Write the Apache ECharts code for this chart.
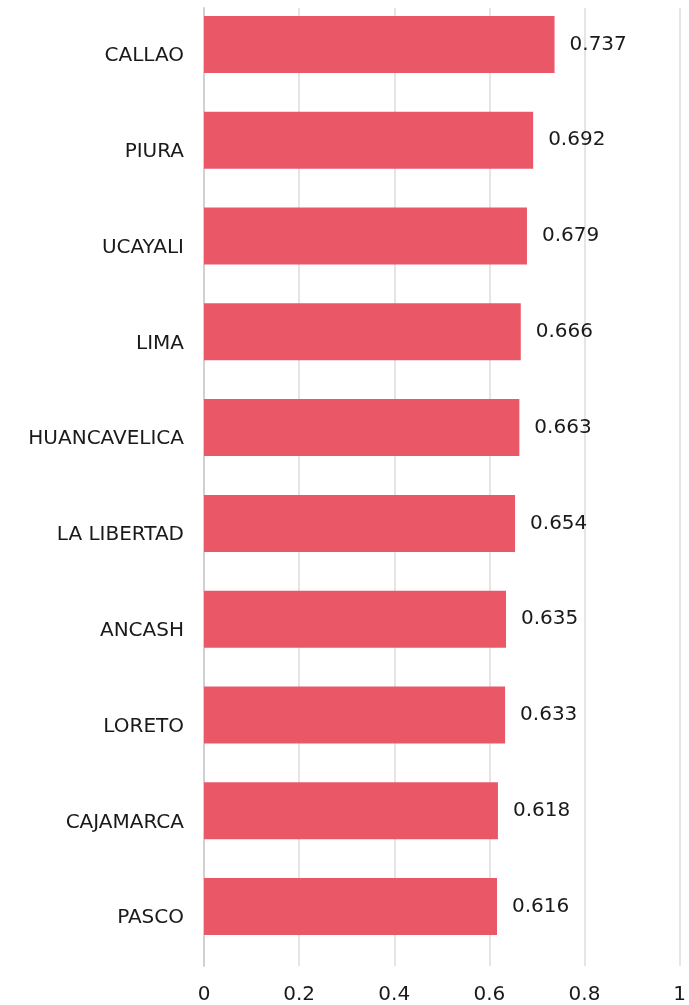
<!DOCTYPE html>
<html>
<head>
<meta charset="utf-8">
<script src="https://cdn.jsdelivr.net/npm/echarts@6/dist/echarts.min.js"></script>
<style>
  html, body { margin: 0; padding: 0; background: #fff; }
  #chart { width: 689px; height: 1005px; }
</style>
</head>
<body>
<div id="chart"></div>
<script>
const regions = ['CALLAO', 'PIURA', 'UCAYALI', 'LIMA', 'HUANCAVELICA', 'LA LIBERTAD', 'ANCASH', 'LORETO', 'CAJAMARCA', 'PASCO']
const values = [0.737, 0.692, 0.679, 0.666, 0.663, 0.654, 0.635, 0.633, 0.618, 0.616]

const chart = echarts.init(document.getElementById('chart'))

const font = 'DejaVu Sans'

const option = {
  animation: false,
  grid: {
    left: 204,
    right: 4,
    top: 8,
    bottom: 37,
    containLabel: false,
  },
  xAxis: {
    type: 'value',
    min: 0,
    max: 1,
    interval: 0.2,
    axisLine: { show: false },
    axisTick: { show: false },
    axisLabel: {
      margin: 19,
      fontFamily: font,
      fontSize: 20,
      color: '#1a1a1a',
    },
    splitLine: {
      lineStyle: { color: '#dcdcdc', width: 1.5 },
    },
  },
  yAxis: {
    type: 'category',
    inverse: true,
    data: regions,
    axisLine: { show: true, lineStyle: { color: '#d0d0d0', width: 2 } },
    axisTick: { show: false },
    axisLabel: {
      margin: 20,
      fontFamily: font,
      fontSize: 20,
      color: '#1a1a1a',
    },
  },
  series: [
    {
      type: 'bar',
      data: values,
      barWidth: 57,
      barGap: '0%',
      itemStyle: { color: '#ea5868' },
      label: {
        show: true,
        position: 'right',
        distance: 15,
        fontFamily: font,
        fontSize: 20,
        color: '#1a1a1a',
        padding: [0, 0, 2, 0],
      },
    },
    {
      // empty spacer series: pushes the real bars up inside each band
      type: 'bar',
      data: [],
      barWidth: 23,
      silent: true,
    },
  ],
}

chart.setOption(option)
</script>
</body>
</html>
